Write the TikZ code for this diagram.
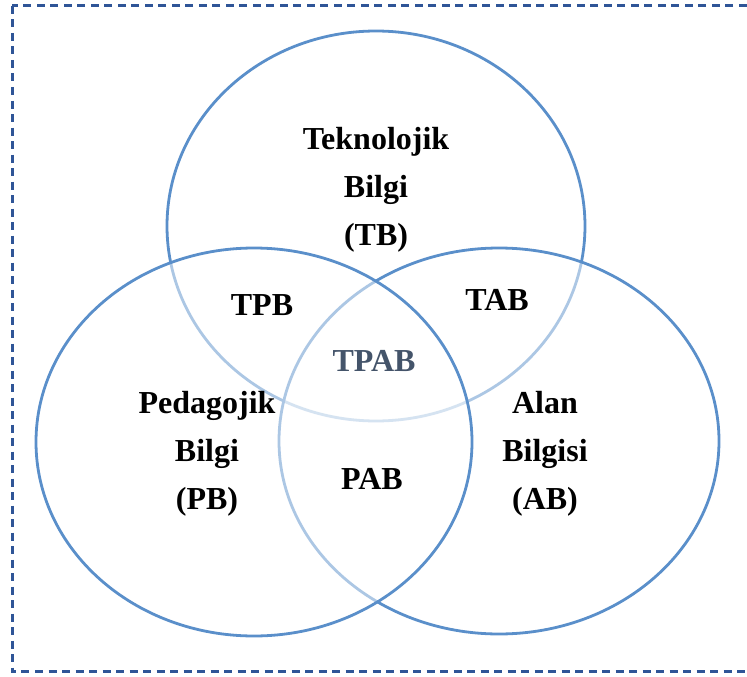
\documentclass[tikz,border=0pt]{standalone}
\usepackage{fontspec}
\setmainfont{Liberation Serif}
\usetikzlibrary{
  shapes.geometric,
  positioning
}
\definecolor{vennBlue}{HTML}{5A8FCA}
\definecolor{frameBlue}{HTML}{2F5597}
\definecolor{coreInk}{HTML}{44546A}
\tikzset{
  every node/.style={font=\fontsize{32}{48}\selectfont\bfseries, text=black},
  setring/.style={
    ellipse,
    draw=vennBlue,
    line width=2.8pt,
    fill=white,
    fill opacity=0.5,
    inner sep=0pt
  },
  label text/.style={align=center, inner sep=0pt},
  frame/.style={
    draw=frameBlue,
    line width=3pt,
    dash pattern=on 8pt off 5.5pt
  }
}

\begin{document}
\begin{tikzpicture}[x=1pt,y=-1pt]
  \useasboundingbox (0,0) rectangle (747,677);
  \begin{scope}
    \clip (0,0) rectangle (747,677);
    \draw[frame] (12,6) rectangle (760,671.5);
  \end{scope}

  % the three knowledge sets
  \node[setring, minimum width=418pt, minimum height=390pt] (tb) at (376,226) {};
  \node[setring, minimum width=440pt, minimum height=386pt] (ab) at (499,441) {};
  \node[setring, minimum width=436pt, minimum height=388pt] (pb) at (254,442) {};

  % labels
  \node[label text] (tbtext) at (376,190) {Teknolojik\\Bilgi\\(TB)};
  \node[label text] (pbtext) at (207,454) {Pedagojik\\Bilgi\\(PB)};
  \node[label text] (abtext) at (545,454) {Alan\\Bilgisi\\(AB)};
  \node[label text] (tpb) at (262,305) {TPB};
  \node[label text] (tab) at (497,300) {TAB};
  \node[label text] (pab) at (372,479) {PAB};
  \node[label text, text=coreInk] (tpab) at (374,361) {TPAB};
\end{tikzpicture}
\end{document}
